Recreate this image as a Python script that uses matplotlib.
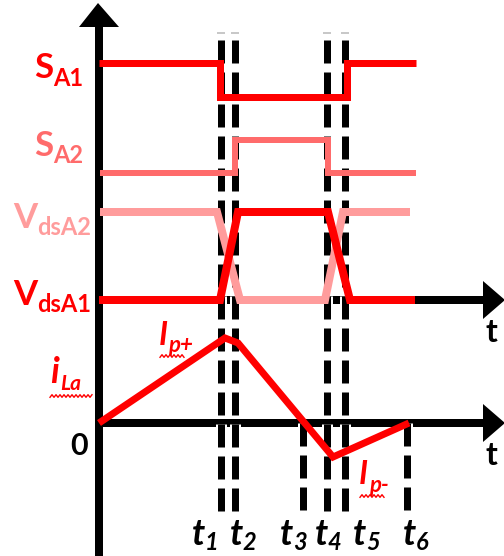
import matplotlib
matplotlib.use("Agg")
import matplotlib.pyplot as plt
import numpy as np
from matplotlib import patheffects as pe
from matplotlib.transforms import Affine2D

plt.rcParams["lines.scale_dashes"] = False

# ---------------------------------------------------------------- data
# switching instants (time units)
t_marks = [1.22, 1.36, 2.04, 2.28, 2.46, 3.08]        # t1 .. t6
t_labels = ["1", "2", "3", "4", "5", "6"]
t_end = 3.17                                          # end of drawn traces

# gate signals (0 = off, 1 = on)
sa1_t = [0.0, 1.21, 1.21, 2.48, 2.48, t_end]
sa1_v = [1, 1, 0, 0, 1, 1]
sa2_t = [0.01, 1.36, 1.36, 2.29, 2.29, t_end]
sa2_v = [0, 0, 1, 1, 0, 0]

# drain-source voltages (normalised)
vds_a2_t = [0.01, 1.18, 1.41, 2.26, 2.44, 3.11]
vds_a2_v = [1, 1, 0, 0, 1, 1]
vds_a1_t = [0.0, 1.21, 1.39, 2.29, 2.51, 3.16]
vds_a1_v = [0, 0, 1, 1, 0, 0]

# inductor current
ila_t = [0.0, 1.26, 1.39, 2.34, 3.10]
ila_v = [0.0, 8.5, 8.0, -3.4, 0.0]

# ---------------------------------------------------------------- layout
W, H = 504, 556
PX = 72 / 100                      # points per pixel at 100 dpi

RED = "#ff0000"
PINK = "#ff6b6b"
LIGHT = "#ff9c9c"

# vertical placement of each trace: (baseline, amplitude)
SA1_POS = (32.6, 3.4)
SA2_POS = (25.0, 3.3)
VDS_POS = (12.3, 8.8)

fig = plt.figure(figsize=(W / 100, H / 100), dpi=100)
ax = fig.add_axes([0, 0, 1, 1])
ax.set_xlim(-0.99, 4.05)
ax.set_ylim(-13.3, 42.3)
ax.axis("off")

px_tf = Affine2D().scale(1 / W, -1 / H).translate(0, 1) + fig.transFigure

# ---------------------------------------------------------------- axes with arrows
AX_LW = 8 * PX
ax.plot([0, 0], [-13.3, 39.8], color="black", lw=AX_LW, solid_capstyle="butt", zorder=1)
ax.fill([-0.20, 0.20, -0.01], [39.6, 39.6, 42.0], color="black", lw=0, zorder=1)
for y0 in (VDS_POS[0], 0.0):
    ax.plot([-0.04, 3.86], [y0, y0], color="black", lw=AX_LW, solid_capstyle="butt", zorder=1)
    ax.fill([3.84, 3.84, 4.06], [y0 + 1.9, y0 - 1.9, y0], color="black", lw=0, zorder=1)

# ---------------------------------------------------------------- dashed time markers
halo = [pe.Stroke(linewidth=11 * PX, foreground="white"), pe.Normal()]
dash_kw = dict(color="black", lw=7 * PX, dashes=(23 * PX, 9 * PX),
               dash_capstyle="butt", path_effects=halo, zorder=2)
long_marks = [0, 1, 3, 4]
for i, tm in enumerate(t_marks):
    top = 38.3 if i in long_marks else 0.0
    ax.plot([tm, tm], [top, -8.9], **dash_kw)
    if i in long_marks:
        ax.plot([tm - 0.03, tm + 0.03], [39.0, 39.0], color="#c8c8c8", lw=2 * PX, zorder=2)

# ---------------------------------------------------------------- waveforms
wave_kw = dict(solid_joinstyle="miter", solid_capstyle="butt", zorder=3)


def trace(ts, vs, pos, color, lw):
    base, amp = pos
    ax.plot(ts, [base + amp * v for v in vs], color=color, lw=lw * PX, **wave_kw)


trace(sa1_t, sa1_v, SA1_POS, RED, 7)
trace(sa2_t, sa2_v, SA2_POS, PINK, 6)
trace(vds_a2_t, vds_a2_v, VDS_POS, LIGHT, 8)
trace(vds_a1_t, vds_a1_v, VDS_POS, RED, 8)
ax.plot(ila_t, ila_v, color=RED, lw=7 * PX, solid_joinstyle="miter",
        solid_capstyle="butt", zorder=3)

# ---------------------------------------------------------------- text
FONT = "Lato"


def txt(x, y, s, size, color, style="normal", ha="left"):
    ax.text(x, y, s, transform=px_tf, fontsize=size, color=color, family=FONT,
            fontweight="bold", fontstyle=style, ha=ha, va="baseline", zorder=4)


def squiggle(x0, x1, y0, color=RED):
    xs = np.arange(x0, x1 + 1, 2.0)
    ys = y0 + 1.3 * (-1.0) ** np.arange(len(xs))
    ax.plot(xs, ys, transform=px_tf, color=color, lw=1.0, zorder=4)


# signal names
txt(53, 78, "S", 25, RED, ha="right")
txt(53, 86, "A1", 17, RED)
txt(53, 156, "S", 25, PINK, ha="right")
txt(53, 163, "A2", 17, PINK)
txt(37, 228, "V", 25, LIGHT, ha="right")
txt(37, 235, "dsA2", 17, LIGHT)
txt(37, 305, "V", 25, RED, ha="right")
txt(37, 312, "dsA1", 17, RED)

# current labels
txt(59, 383, "i", 26, RED, style="italic", ha="right")
txt(60, 390, "La", 15, RED, style="italic")
squiggle(50, 92, 396)
txt(168, 345, "I", 23, RED, style="italic", ha="right")
txt(168, 352, "p+", 16, RED, style="italic")
squiggle(160, 184, 356)
txt(368, 484, "I", 23, RED, style="italic", ha="right")
txt(369, 492, "p-", 16, RED, style="italic")
squiggle(360, 384, 496)

# axis labels
txt(79, 455, "0", 22, "black", ha="center")
txt(486, 342, "t", 23, "black")
txt(486, 465, "t", 23, "black")

# time instant labels
t_label_x = [192, 230, 280, 315, 353, 403]
for lx, sub in zip(t_label_x, t_labels):
    txt(lx, 545, "t", 26, "black", style="italic")
    txt(lx + 13, 550, sub, 17, "black", style="italic")

fig.savefig("out.png", dpi=100)
